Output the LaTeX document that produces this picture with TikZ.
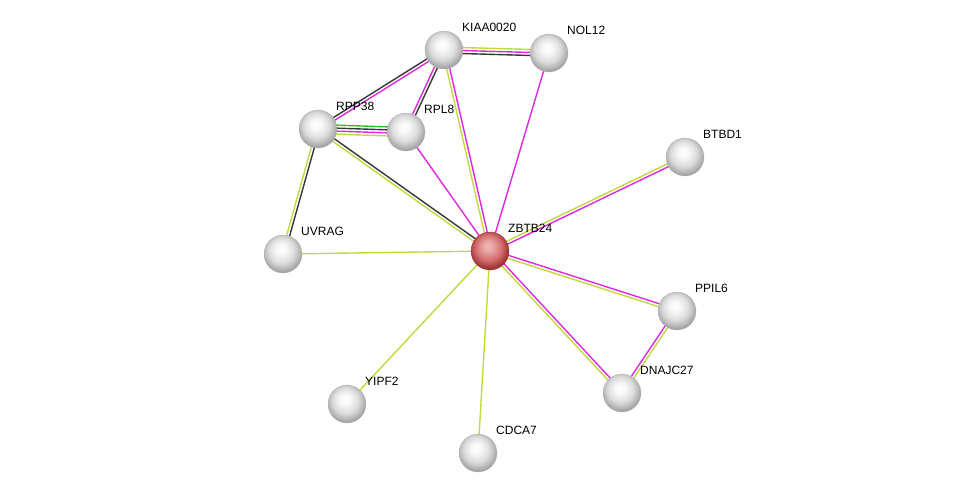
\documentclass[tikz,border=0pt]{standalone}
\usepackage{fontspec}
\setmainfont{Liberation Sans}
\usetikzlibrary{calc,backgrounds}
\definecolor{strmag}{RGB}{222,40,222}
\definecolor{stryel}{RGB}{196,216,60}
\definecolor{strblk}{RGB}{55,55,55}
\definecolor{strgrn}{RGB}{40,190,40}
\definecolor{hubhi}{RGB}{240,185,185}
\definecolor{hubmid}{RGB}{212,110,110}
\definecolor{hubrim}{RGB}{150,45,45}
\pgfdeclareradialshading{strball}{\pgfpoint{-3bp}{7bp}}{color(0bp)=(white); color(7bp)=(white!97!black);
  color(17bp)=(white!86!black); color(25bp)=(white!68!black); color(30bp)=(white!55!black); color(50bp)=(white!55!black)}
\pgfdeclareradialshading{strhub}{\pgfpoint{-3bp}{7bp}}{color(0bp)=(hubhi); color(7bp)=(hubhi!70!hubmid);
  color(17bp)=(hubmid); color(25bp)=(hubrim!80!hubmid); color(30bp)=(hubrim); color(50bp)=(hubrim)}
\begin{document}
\begin{tikzpicture}[x=1pt,y=-1pt,
  prot/.style={circle,minimum size=38pt,inner sep=0pt,shading=strball,draw=gray!60,line width=0.3pt},
  hub/.style={prot,shading=strhub,draw=hubrim},
  lbl/.style={anchor=base west,inner sep=0pt,font=\fontsize{12}{14}\selectfont},
  lnk/.style={line width=1.4pt}]
\useasboundingbox (0,0) rectangle (976,498);
\newcommand{\link}[4]{\draw[lnk,#4] ($(#1.center)!#3!90:(#2.center)$) -- ($(#2.center)!#3!-90:(#1.center)$);}

% proteins
\foreach \nm/\x/\y/\txt in {kiaa/444/50/KIAA0020, nol/549/53/NOL12, rpp/318/129/RPP38,
    rpl/406/132/RPL8, btbd/685/157/BTBD1, uvrag/283/254/UVRAG, ppil/677/311/PPIL6,
    dnaj/622/393/DNAJC27, yipf/347/404/YIPF2, cdca/478/453/CDCA7}{
  \node[prot] (\nm) at (\x,\y) {};
  \node[lbl] (\nm-l) at (\x+18,\y-18.5) {\txt};
}
\node[hub] (zbtb) at (490,251) {};
\node[lbl] (zbtb-l) at (508,232) {ZBTB24};

% interactions
\begin{scope}[on background layer]
\link{kiaa}{nol}{3pt}{stryel}
\link{kiaa}{nol}{0pt}{strmag}
\link{kiaa}{nol}{-3pt}{strblk}
\link{kiaa}{rpp}{1.5pt}{strmag}
\link{kiaa}{rpp}{-1.5pt}{strblk}
\link{kiaa}{rpl}{1.5pt}{strblk}
\link{kiaa}{rpl}{-1.5pt}{strmag}
\link{kiaa}{zbtb}{1.5pt}{strmag}
\link{kiaa}{zbtb}{-1.5pt}{stryel}
\link{rpp}{rpl}{-4.5pt}{stryel}
\link{rpp}{rpl}{-1.5pt}{strmag}
\link{rpp}{rpl}{1.5pt}{strblk}
\link{rpp}{rpl}{4.5pt}{strgrn}
\link{rpp}{uvrag}{1.5pt}{strblk}
\link{rpp}{uvrag}{-1.5pt}{stryel}
\link{rpp}{zbtb}{1.5pt}{strblk}
\link{rpp}{zbtb}{-1.5pt}{stryel}
\link{btbd}{zbtb}{1.5pt}{strmag}
\link{btbd}{zbtb}{-1.5pt}{stryel}
\link{zbtb}{ppil}{1.5pt}{strmag}
\link{zbtb}{ppil}{-1.5pt}{stryel}
\link{zbtb}{dnaj}{1.5pt}{strmag}
\link{zbtb}{dnaj}{-1.5pt}{stryel}
\link{ppil}{dnaj}{1.5pt}{stryel}
\link{ppil}{dnaj}{-1.5pt}{strmag}
\foreach \a in {nol,rpl}{
  \link{\a}{zbtb}{0pt}{strmag}
}
\foreach \a in {uvrag,yipf,cdca}{
  \link{\a}{zbtb}{0pt}{stryel}
}
\end{scope}
\end{tikzpicture}
\end{document}
